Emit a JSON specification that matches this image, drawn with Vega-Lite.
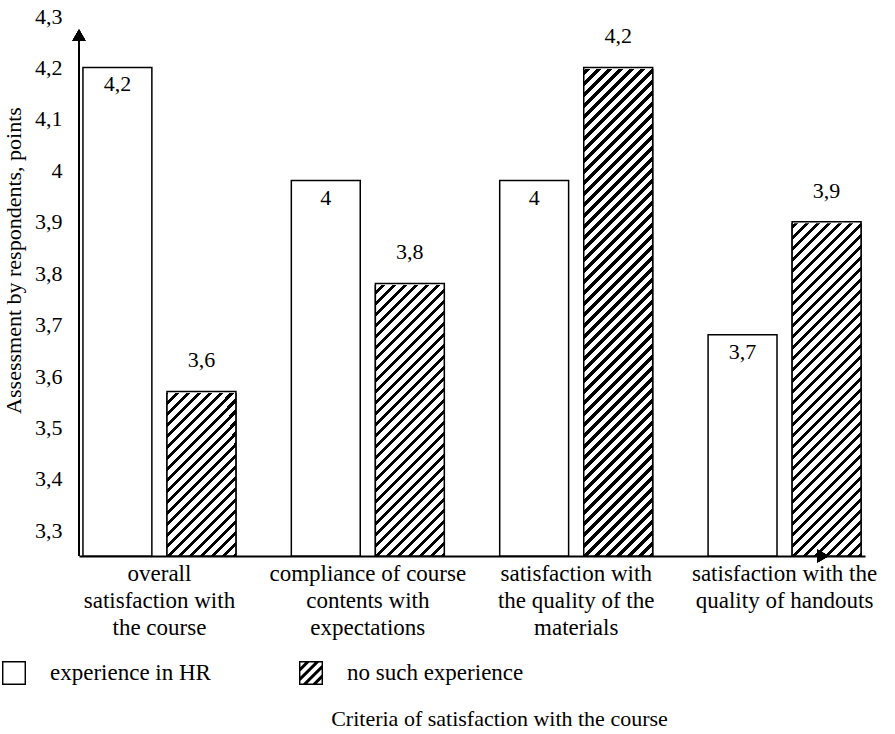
{
  "$schema": "https://vega.github.io/schema/vega-lite/v6.json",
  "width": 786,
  "height": 540,
  "autosize": {"type": "none"},
  "padding": {"left": 79, "top": 16, "right": 30, "bottom": 178},
  "background": "white",
  "config": {"view": {"stroke": null}, "font": "Liberation Serif, Times New Roman, serif"},
  "data": {
    "values": [
      {"criterion": "overall satisfaction with the course", "group": "experience in HR", "value": 4.2, "label": "4,2"},
      {"criterion": "overall satisfaction with the course", "group": "no such experience", "value": 3.57, "label": "3,6"},
      {"criterion": "compliance of course contents with expectations", "group": "experience in HR", "value": 3.98, "label": "4"},
      {"criterion": "compliance of course contents with expectations", "group": "no such experience", "value": 3.78, "label": "3,8"},
      {"criterion": "satisfaction with the quality of the materials", "group": "experience in HR", "value": 3.98, "label": "4"},
      {"criterion": "satisfaction with the quality of the materials", "group": "no such experience", "value": 4.2, "label": "4,2"},
      {"criterion": "satisfaction with the quality of handouts", "group": "experience in HR", "value": 3.68, "label": "3,7"},
      {"criterion": "satisfaction with the quality of handouts", "group": "no such experience", "value": 3.9, "label": "3,9"}
    ]
  },
  "layer": [
    {
      "mark": {"type": "point", "filled": true, "color": "black", "opacity": 1},
      "encoding": {
        "x": {
          "field": "criterion", "type": "nominal", "sort": null,
          "scale": {"paddingInner": 0.228, "paddingOuter": 0},
          "axis": {
            "title": "Criteria of satisfaction with the course",
            "titleX": 420, "titleY": 162, "titleBaseline": "middle", "titleAlign": "center",
            "titleFont": "Liberation Serif, Times New Roman, serif", "titleFontSize": 22, "titleFontWeight": "normal", "titleColor": "black",
            "labelAngle": 0, "labelFont": "Liberation Serif, Times New Roman, serif", "labelFontSize": 23, "labelColor": "black",
            "labelLineHeight": 27, "labelPadding": 6, "labelLimit": 0, "labelOverlap": false, "labelBaseline": "top",
            "ticks": false, "domainColor": "black", "domainWidth": 2,
            "labelExpr": "datum.value == 'overall satisfaction with the course' ? ['overall', 'satisfaction with', 'the course'] : datum.value == 'compliance of course contents with expectations' ? ['compliance of course', 'contents with', 'expectations'] : datum.value == 'satisfaction with the quality of the materials' ? ['satisfaction with', 'the quality of the', 'materials'] : ['satisfaction with the', 'quality of handouts']"
          }
        },
        "xOffset": {
          "field": "group", "type": "nominal", "sort": ["experience in HR", "no such experience"],
          "scale": {"paddingInner": 0.18, "paddingOuter": 0.047}
        },
        "y": {
          "datum": 3.32, "type": "quantitative",
          "scale": {"domain": [3.25, 4.3], "zero": false, "nice": false},
          "axis": {
            "title": "Assessment by respondents, points",
            "titleX": -66, "titleY": 244, "titleAngle": -90, "titleBaseline": "middle", "titleAlign": "center",
            "titleFont": "Liberation Serif, Times New Roman, serif", "titleFontSize": 22, "titleFontWeight": "normal", "titleColor": "black",
            "values": [3.3, 3.4, 3.5, 3.6, 3.7, 3.8, 3.9, 4.0, 4.1, 4.2, 4.3],
            "labelExpr": "replace(format(datum.value, '.1~f'), '.', ',')",
            "labelFont": "Liberation Serif, Times New Roman, serif", "labelFontSize": 22, "labelColor": "black",
            "labelPadding": 17, "ticks": false, "tickSize": 0, "domain": false, "grid": false
          }
        },
        "shape": {
          "field": "group", "type": "nominal",
          "scale": {
            "domain": ["experience in HR", "no such experience"],
            "range": [
              "M-1,-1L1,-1L1,-0.88L-1,-0.88Z M-1,0.88L1,0.88L1,1L-1,1Z M-1,-1L-0.88,-1L-0.88,1L-1,1Z M0.88,-1L1,-1L1,1L0.88,1Z",
              "M-1,-1L1,-1L1,-0.88L-1,-0.88Z M-1,0.88L1,0.88L1,1L-1,1Z M-1,-1L-0.88,-1L-0.88,1L-1,1Z M0.88,-1L1,-1L1,1L0.88,1Z M-1,-0.375L-0.375,-1L-0.025,-1L-1,-0.025Z M-1,0.425L0.425,-1L0.775,-1L-1,0.775Z M1,-0.775L1,-0.425L-0.425,1L-0.775,1Z M1,0.025L1,0.375L0.375,1L0.025,1Z"
            ]
          },
          "legend": {
            "orient": "none", "legendX": -77, "legendY": 645, "direction": "horizontal", "title": null,
            "symbolSize": 576, "symbolFillColor": "black", "symbolStrokeWidth": 0, "symbolOpacity": 1,
            "labelFont": "Liberation Serif, Times New Roman, serif", "labelFontSize": 23, "labelColor": "black", "labelOffset": 24, "labelLimit": 400,
            "columnPadding": 88, "padding": 0
          }
        }
      }
    },
    {
      "mark": {"type": "bar", "stroke": "black", "strokeWidth": 1.5},
      "encoding": {
        "x": {"field": "criterion", "type": "nominal", "sort": null},
        "xOffset": {"field": "group", "type": "nominal", "sort": ["experience in HR", "no such experience"]},
        "y": {"field": "value", "type": "quantitative"},
        "y2": {"datum": 3.25},
        "fill": {"condition": {"test": "datum.group === 'experience in HR'", "value": "white"}, "value": "#555555"}
      }
    },
    {
      "transform": [{"filter": "datum.group === 'no such experience'"}],
      "mark": {"type": "bar", "strokeWidth": 0},
      "encoding": {
        "x": {"field": "criterion", "type": "nominal", "sort": null},
        "xOffset": {"field": "group", "type": "nominal", "sort": ["experience in HR", "no such experience"]},
        "y": {"datum": 3.25, "type": "quantitative"},
        "y2": {"datum": 4.3},
        "fill": {"value": {"gradient": "linear", "x1": 0, "y1": 0, "x2": 0.14621, "y2": 1.14539, "stops": [
          {"offset": 0, "color": "#000"}, {"offset": 0.007, "color": "#000"}, {"offset": 0.007, "color": "#fff"}, {"offset": 0.0175, "color": "#fff"},
          {"offset": 0.0175, "color": "#000"}, {"offset": 0.0245, "color": "#000"}, {"offset": 0.0245, "color": "#fff"}, {"offset": 0.035, "color": "#fff"},
          {"offset": 0.035, "color": "#000"}, {"offset": 0.042, "color": "#000"}, {"offset": 0.042, "color": "#fff"}, {"offset": 0.0525, "color": "#fff"},
          {"offset": 0.0525, "color": "#000"}, {"offset": 0.0595, "color": "#000"}, {"offset": 0.0595, "color": "#fff"}, {"offset": 0.07, "color": "#fff"},
          {"offset": 0.07, "color": "#000"}, {"offset": 0.077, "color": "#000"}, {"offset": 0.077, "color": "#fff"}, {"offset": 0.0875, "color": "#fff"},
          {"offset": 0.0875, "color": "#000"}, {"offset": 0.0945, "color": "#000"}, {"offset": 0.0945, "color": "#fff"}, {"offset": 0.105, "color": "#fff"},
          {"offset": 0.105, "color": "#000"}, {"offset": 0.112, "color": "#000"}, {"offset": 0.112, "color": "#fff"}, {"offset": 0.1225, "color": "#fff"},
          {"offset": 0.1225, "color": "#000"}, {"offset": 0.1295, "color": "#000"}, {"offset": 0.1295, "color": "#fff"}, {"offset": 0.14, "color": "#fff"},
          {"offset": 0.14, "color": "#000"}, {"offset": 0.147, "color": "#000"}, {"offset": 0.147, "color": "#fff"}, {"offset": 0.1575, "color": "#fff"},
          {"offset": 0.1575, "color": "#000"}, {"offset": 0.1645, "color": "#000"}, {"offset": 0.1645, "color": "#fff"}, {"offset": 0.175, "color": "#fff"},
          {"offset": 0.175, "color": "#000"}, {"offset": 0.182, "color": "#000"}, {"offset": 0.182, "color": "#fff"}, {"offset": 0.1925, "color": "#fff"},
          {"offset": 0.1925, "color": "#000"}, {"offset": 0.1995, "color": "#000"}, {"offset": 0.1995, "color": "#fff"}, {"offset": 0.21, "color": "#fff"},
          {"offset": 0.21, "color": "#000"}, {"offset": 0.217, "color": "#000"}, {"offset": 0.217, "color": "#fff"}, {"offset": 0.2275, "color": "#fff"},
          {"offset": 0.2275, "color": "#000"}, {"offset": 0.2345, "color": "#000"}, {"offset": 0.2345, "color": "#fff"}, {"offset": 0.245, "color": "#fff"},
          {"offset": 0.245, "color": "#000"}, {"offset": 0.252, "color": "#000"}, {"offset": 0.252, "color": "#fff"}, {"offset": 0.2625, "color": "#fff"},
          {"offset": 0.2625, "color": "#000"}, {"offset": 0.2695, "color": "#000"}, {"offset": 0.2695, "color": "#fff"}, {"offset": 0.28, "color": "#fff"},
          {"offset": 0.28, "color": "#000"}, {"offset": 0.287, "color": "#000"}, {"offset": 0.287, "color": "#fff"}, {"offset": 0.2975, "color": "#fff"},
          {"offset": 0.2975, "color": "#000"}, {"offset": 0.3045, "color": "#000"}, {"offset": 0.3045, "color": "#fff"}, {"offset": 0.315, "color": "#fff"},
          {"offset": 0.315, "color": "#000"}, {"offset": 0.322, "color": "#000"}, {"offset": 0.322, "color": "#fff"}, {"offset": 0.3325, "color": "#fff"},
          {"offset": 0.3325, "color": "#000"}, {"offset": 0.3395, "color": "#000"}, {"offset": 0.3395, "color": "#fff"}, {"offset": 0.35, "color": "#fff"},
          {"offset": 0.35, "color": "#000"}, {"offset": 0.357, "color": "#000"}, {"offset": 0.357, "color": "#fff"}, {"offset": 0.3675, "color": "#fff"},
          {"offset": 0.3675, "color": "#000"}, {"offset": 0.3745, "color": "#000"}, {"offset": 0.3745, "color": "#fff"}, {"offset": 0.385, "color": "#fff"},
          {"offset": 0.385, "color": "#000"}, {"offset": 0.392, "color": "#000"}, {"offset": 0.392, "color": "#fff"}, {"offset": 0.4025, "color": "#fff"},
          {"offset": 0.4025, "color": "#000"}, {"offset": 0.4095, "color": "#000"}, {"offset": 0.4095, "color": "#fff"}, {"offset": 0.42, "color": "#fff"},
          {"offset": 0.42, "color": "#000"}, {"offset": 0.427, "color": "#000"}, {"offset": 0.427, "color": "#fff"}, {"offset": 0.4375, "color": "#fff"},
          {"offset": 0.4375, "color": "#000"}, {"offset": 0.4445, "color": "#000"}, {"offset": 0.4445, "color": "#fff"}, {"offset": 0.455, "color": "#fff"},
          {"offset": 0.455, "color": "#000"}, {"offset": 0.462, "color": "#000"}, {"offset": 0.462, "color": "#fff"}, {"offset": 0.4725, "color": "#fff"},
          {"offset": 0.4725, "color": "#000"}, {"offset": 0.4795, "color": "#000"}, {"offset": 0.4795, "color": "#fff"}, {"offset": 0.49, "color": "#fff"},
          {"offset": 0.49, "color": "#000"}, {"offset": 0.497, "color": "#000"}, {"offset": 0.497, "color": "#fff"}, {"offset": 0.5075, "color": "#fff"},
          {"offset": 0.5075, "color": "#000"}, {"offset": 0.5145, "color": "#000"}, {"offset": 0.5145, "color": "#fff"}, {"offset": 0.525, "color": "#fff"},
          {"offset": 0.525, "color": "#000"}, {"offset": 0.532, "color": "#000"}, {"offset": 0.532, "color": "#fff"}, {"offset": 0.5425, "color": "#fff"},
          {"offset": 0.5425, "color": "#000"}, {"offset": 0.5495, "color": "#000"}, {"offset": 0.5495, "color": "#fff"}, {"offset": 0.56, "color": "#fff"},
          {"offset": 0.56, "color": "#000"}, {"offset": 0.567, "color": "#000"}, {"offset": 0.567, "color": "#fff"}, {"offset": 0.5775, "color": "#fff"},
          {"offset": 0.5775, "color": "#000"}, {"offset": 0.5845, "color": "#000"}, {"offset": 0.5845, "color": "#fff"}, {"offset": 0.595, "color": "#fff"},
          {"offset": 0.595, "color": "#000"}, {"offset": 0.602, "color": "#000"}, {"offset": 0.602, "color": "#fff"}, {"offset": 0.6125, "color": "#fff"},
          {"offset": 0.6125, "color": "#000"}, {"offset": 0.6195, "color": "#000"}, {"offset": 0.6195, "color": "#fff"}, {"offset": 0.63, "color": "#fff"},
          {"offset": 0.63, "color": "#000"}, {"offset": 0.637, "color": "#000"}, {"offset": 0.637, "color": "#fff"}, {"offset": 0.6475, "color": "#fff"},
          {"offset": 0.6475, "color": "#000"}, {"offset": 0.6545, "color": "#000"}, {"offset": 0.6545, "color": "#fff"}, {"offset": 0.665, "color": "#fff"},
          {"offset": 0.665, "color": "#000"}, {"offset": 0.672, "color": "#000"}, {"offset": 0.672, "color": "#fff"}, {"offset": 0.6825, "color": "#fff"},
          {"offset": 0.6825, "color": "#000"}, {"offset": 0.6895, "color": "#000"}, {"offset": 0.6895, "color": "#fff"}, {"offset": 0.7, "color": "#fff"},
          {"offset": 0.7, "color": "#000"}, {"offset": 0.707, "color": "#000"}, {"offset": 0.707, "color": "#fff"}, {"offset": 0.7175, "color": "#fff"},
          {"offset": 0.7175, "color": "#000"}, {"offset": 0.7245, "color": "#000"}, {"offset": 0.7245, "color": "#fff"}, {"offset": 0.735, "color": "#fff"},
          {"offset": 0.735, "color": "#000"}, {"offset": 0.742, "color": "#000"}, {"offset": 0.742, "color": "#fff"}, {"offset": 0.7525, "color": "#fff"},
          {"offset": 0.7525, "color": "#000"}, {"offset": 0.7595, "color": "#000"}, {"offset": 0.7595, "color": "#fff"}, {"offset": 0.77, "color": "#fff"},
          {"offset": 0.77, "color": "#000"}, {"offset": 0.777, "color": "#000"}, {"offset": 0.777, "color": "#fff"}, {"offset": 0.7875, "color": "#fff"},
          {"offset": 0.7875, "color": "#000"}, {"offset": 0.7945, "color": "#000"}, {"offset": 0.7945, "color": "#fff"}, {"offset": 0.805, "color": "#fff"},
          {"offset": 0.805, "color": "#000"}, {"offset": 0.812, "color": "#000"}, {"offset": 0.812, "color": "#fff"}, {"offset": 0.8225, "color": "#fff"},
          {"offset": 0.8225, "color": "#000"}, {"offset": 0.8295, "color": "#000"}, {"offset": 0.8295, "color": "#fff"}, {"offset": 0.84, "color": "#fff"},
          {"offset": 0.84, "color": "#000"}, {"offset": 0.847, "color": "#000"}, {"offset": 0.847, "color": "#fff"}, {"offset": 0.8575, "color": "#fff"},
          {"offset": 0.8575, "color": "#000"}, {"offset": 0.8645, "color": "#000"}, {"offset": 0.8645, "color": "#fff"}, {"offset": 0.875, "color": "#fff"},
          {"offset": 0.875, "color": "#000"}, {"offset": 0.882, "color": "#000"}, {"offset": 0.882, "color": "#fff"}, {"offset": 0.8925, "color": "#fff"},
          {"offset": 0.8925, "color": "#000"}, {"offset": 0.8995, "color": "#000"}, {"offset": 0.8995, "color": "#fff"}, {"offset": 0.91, "color": "#fff"},
          {"offset": 0.91, "color": "#000"}, {"offset": 0.917, "color": "#000"}, {"offset": 0.917, "color": "#fff"}, {"offset": 0.9275, "color": "#fff"},
          {"offset": 0.9275, "color": "#000"}, {"offset": 0.9345, "color": "#000"}, {"offset": 0.9345, "color": "#fff"}, {"offset": 0.945, "color": "#fff"},
          {"offset": 0.945, "color": "#000"}, {"offset": 0.952, "color": "#000"}, {"offset": 0.952, "color": "#fff"}, {"offset": 0.9625, "color": "#fff"},
          {"offset": 0.9625, "color": "#000"}, {"offset": 0.9695, "color": "#000"}, {"offset": 0.9695, "color": "#fff"}, {"offset": 0.98, "color": "#fff"},
          {"offset": 0.98, "color": "#000"}, {"offset": 0.987, "color": "#000"}, {"offset": 0.987, "color": "#fff"}, {"offset": 1, "color": "#fff"}
        ]}}
      }
    },
    {
      "transform": [{"filter": "datum.group === 'no such experience'"}],
      "mark": {"type": "bar", "fill": "white", "stroke": "white", "strokeWidth": 3},
      "encoding": {
        "x": {"field": "criterion", "type": "nominal", "sort": null},
        "xOffset": {"field": "group", "type": "nominal", "sort": ["experience in HR", "no such experience"]},
        "y": {"field": "value", "type": "quantitative"},
        "y2": {"datum": 4.3}
      }
    },
    {
      "transform": [{"filter": "datum.group === 'no such experience'"}],
      "mark": {"type": "bar", "fill": null, "fillOpacity": 0, "stroke": "black", "strokeWidth": 1.5},
      "encoding": {
        "x": {"field": "criterion", "type": "nominal", "sort": null},
        "xOffset": {"field": "group", "type": "nominal", "sort": ["experience in HR", "no such experience"]},
        "y": {"field": "value", "type": "quantitative"},
        "y2": {"datum": 3.25}
      }
    },
    {
      "transform": [{"filter": "datum.group === 'experience in HR'"}],
      "mark": {"type": "text", "font": "Liberation Serif, Times New Roman, serif", "fontSize": 22, "color": "black", "baseline": "middle", "dy": 17},
      "encoding": {
        "x": {"field": "criterion", "type": "nominal", "sort": null},
        "xOffset": {"field": "group", "type": "nominal", "sort": ["experience in HR", "no such experience"]},
        "y": {"field": "value", "type": "quantitative"},
        "text": {"field": "label"}
      }
    },
    {
      "transform": [{"filter": "datum.group === 'no such experience'"}],
      "mark": {"type": "text", "font": "Liberation Serif, Times New Roman, serif", "fontSize": 22, "color": "black", "baseline": "middle", "dy": -31},
      "encoding": {
        "x": {"field": "criterion", "type": "nominal", "sort": null},
        "xOffset": {"field": "group", "type": "nominal", "sort": ["experience in HR", "no such experience"]},
        "y": {"field": "value", "type": "quantitative"},
        "text": {"field": "label"}
      }
    },
    {
      "mark": {"type": "rule", "color": "black", "strokeWidth": 2},
      "encoding": {
        "x": {"datum": "overall satisfaction with the course", "type": "nominal", "bandPosition": 0},
        "y": {"datum": 3.25, "type": "quantitative"},
        "y2": {"datum": 4.263}
      }
    },
    {
      "mark": {"type": "point", "shape": "triangle-up", "size": 170, "filled": true, "color": "black", "opacity": 1},
      "encoding": {
        "x": {"datum": "overall satisfaction with the course", "type": "nominal", "bandPosition": 0},
        "y": {"datum": 4.263, "type": "quantitative"}
      }
    },
    {
      "mark": {"type": "point", "shape": "triangle-right", "size": 170, "filled": true, "color": "black", "opacity": 1},
      "encoding": {
        "x": {"datum": "satisfaction with the quality of handouts", "type": "nominal", "bandPosition": 0.739},
        "y": {"datum": 3.25, "type": "quantitative"}
      }
    }
  ]
}
